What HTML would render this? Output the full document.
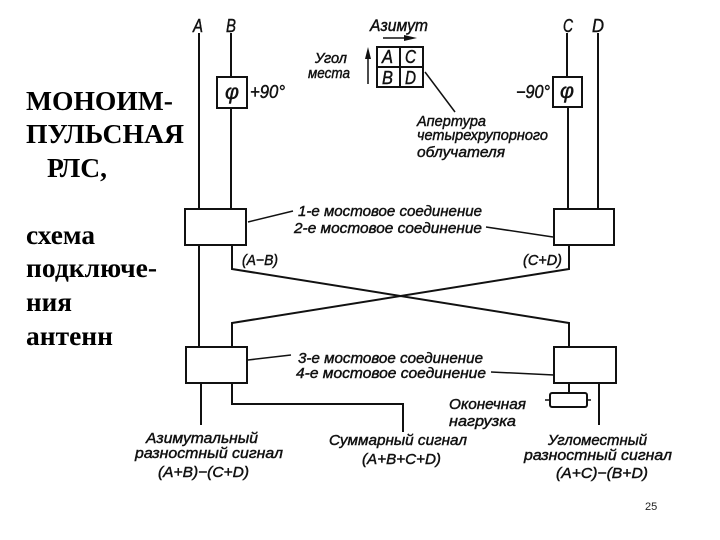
<!DOCTYPE html>
<html><head><meta charset="utf-8"><style>
html,body{margin:0;padding:0;background:#fff;width:720px;height:540px;overflow:hidden}
svg{display:block}
.l{fill:none;stroke:#111;stroke-width:2;stroke-linejoin:miter}
.t{stroke:#111;stroke-width:1.5;fill:none}
.b{fill:#fff;stroke:#111;stroke-width:2}
text.i{font-family:"Liberation Sans",sans-serif;font-style:italic;font-size:15px;fill:#111;stroke:#111;stroke-width:.45}
text.c{font-size:18px}
text.s{font-family:"Liberation Serif",serif;font-weight:bold;font-size:27.5px;fill:#000}
</style></head><body>
<svg width="720" height="540" viewBox="0 0 720 540" xmlns="http://www.w3.org/2000/svg">
<!-- vertical lines -->
<path class="l" d="M199 33V209M231 33V77M231 108V209M567 33V77M568 107V209M598 33V209"/>
<path class="l" d="M199 245V347M201 383V425M232 245V269L569 323V347M569 245V269L232 323V347"/>
<path class="l" d="M232 383V404H403V432M569 383V393M599 383V425"/>
<!-- boxes -->
<rect class="b" x="217" y="77" width="30" height="31"/>
<rect class="b" x="553" y="77" width="29" height="30"/>
<rect class="b" x="185" y="209" width="61" height="36"/>
<rect class="b" x="554" y="209" width="60" height="36"/>
<rect class="b" x="186" y="347" width="61" height="36"/>
<rect class="b" x="554" y="347" width="62" height="36"/>
<rect class="b" x="550" y="393" width="37" height="14" rx="2"/>
<path class="t" d="M545 400H550M587 400H591"/>
<!-- grid -->
<rect class="b" x="377" y="47" width="46" height="40"/>
<path class="l" d="M400 47V87M377 67H423"/>
<!-- arrows -->
<path class="t" d="M383 38H408"/><path d="M417 38L404 35V41Z" fill="#111"/>
<path class="t" d="M368 84V56"/><path d="M368 47L365 59H371Z" fill="#111"/>
<!-- leaders -->
<path class="t" d="M425 72L455 112M248 222L293 211M486 227L553 237M248 360L291 355M491 372L554 375"/>
<!-- labels -->
<text class="i c" x="193" y="32" textLength="10" lengthAdjust="spacingAndGlyphs">A</text>
<text class="i c" x="226" y="32" textLength="10" lengthAdjust="spacingAndGlyphs">B</text>
<text class="i c" x="563" y="32" textLength="10" lengthAdjust="spacingAndGlyphs">C</text>
<text class="i c" x="592" y="32" textLength="12" lengthAdjust="spacingAndGlyphs">D</text>
<text class="i" x="370" y="31" textLength="58" lengthAdjust="spacingAndGlyphs" style="font-size:17px">Азимут</text>
<text class="i" x="315" y="63" textLength="32" lengthAdjust="spacingAndGlyphs">Угол</text>
<text class="i" x="308" y="78" textLength="42" lengthAdjust="spacingAndGlyphs">места</text>
<text class="i c" x="382" y="63" textLength="11" lengthAdjust="spacingAndGlyphs">A</text>
<text class="i c" x="405" y="63" textLength="11" lengthAdjust="spacingAndGlyphs">C</text>
<text class="i c" x="382" y="84" textLength="11" lengthAdjust="spacingAndGlyphs">B</text>
<text class="i c" x="405" y="84" textLength="11" lengthAdjust="spacingAndGlyphs">D</text>
<text class="i" x="225" y="99" textLength="14" lengthAdjust="spacingAndGlyphs" style="font-size:21px">φ</text>
<text class="i" x="560" y="98" textLength="14" lengthAdjust="spacingAndGlyphs" style="font-size:21px">φ</text>
<text class="i" x="250" y="98" textLength="35" lengthAdjust="spacingAndGlyphs" style="font-size:18px">+90°</text>
<text class="i" x="516" y="98" textLength="34" lengthAdjust="spacingAndGlyphs" style="font-size:18px">−90°</text>
<text class="i" x="417" y="126" textLength="69" lengthAdjust="spacingAndGlyphs">Апертура</text>
<text class="i" x="417" y="140" textLength="131" lengthAdjust="spacingAndGlyphs">четырехрупорного</text>
<text class="i" x="417" y="157" textLength="88" lengthAdjust="spacingAndGlyphs">облучателя</text>
<text class="i" x="298" y="216" textLength="184" lengthAdjust="spacingAndGlyphs">1-е мостовое соединение</text>
<text class="i" x="294" y="233" textLength="188" lengthAdjust="spacingAndGlyphs">2-е мостовое соединение</text>
<text class="i" x="242" y="265" textLength="36" lengthAdjust="spacingAndGlyphs">(A−B)</text>
<text class="i" x="523" y="265" textLength="39" lengthAdjust="spacingAndGlyphs">(C+D)</text>
<text class="i" x="298" y="363" textLength="185" lengthAdjust="spacingAndGlyphs">3-е мостовое соединение</text>
<text class="i" x="296" y="378" textLength="190" lengthAdjust="spacingAndGlyphs">4-е мостовое соединение</text>
<text class="i" x="449" y="409" textLength="77" lengthAdjust="spacingAndGlyphs">Оконечная</text>
<text class="i" x="449" y="426" textLength="67" lengthAdjust="spacingAndGlyphs">нагрузка</text>
<text class="i" x="146" y="443" textLength="112" lengthAdjust="spacingAndGlyphs">Азимутальный</text>
<text class="i" x="135" y="458" textLength="148" lengthAdjust="spacingAndGlyphs">разностный сигнал</text>
<text class="i" x="158" y="477" textLength="91" lengthAdjust="spacingAndGlyphs">(A+B)−(C+D)</text>
<text class="i" x="329" y="445" textLength="138" lengthAdjust="spacingAndGlyphs">Суммарный сигнал</text>
<text class="i" x="362" y="464" textLength="79" lengthAdjust="spacingAndGlyphs">(A+B+C+D)</text>
<text class="i" x="548" y="445" textLength="99" lengthAdjust="spacingAndGlyphs">Угломестный</text>
<text class="i" x="524" y="460" textLength="148" lengthAdjust="spacingAndGlyphs">разностный сигнал</text>
<text class="i" x="556" y="478" textLength="92" lengthAdjust="spacingAndGlyphs">(A+C)−(B+D)</text>
<!-- left title -->
<text class="s" x="26" y="110" textLength="147" lengthAdjust="spacingAndGlyphs">МОНОИМ-</text>
<text class="s" x="26" y="143" textLength="158" lengthAdjust="spacingAndGlyphs">ПУЛЬСНАЯ</text>
<text class="s" x="47" y="177" textLength="60" lengthAdjust="spacingAndGlyphs">РЛС,</text>
<text class="s" x="26" y="244" textLength="69" lengthAdjust="spacingAndGlyphs">схема</text>
<text class="s" x="26" y="277" textLength="131" lengthAdjust="spacingAndGlyphs">подключе-</text>
<text class="s" x="26" y="311" textLength="46" lengthAdjust="spacingAndGlyphs">ния</text>
<text class="s" x="26" y="345" textLength="87" lengthAdjust="spacingAndGlyphs">антенн</text>
<text x="645" y="510" style="font-family:'Liberation Sans',sans-serif;font-size:11px;fill:#222">25</text>
</svg>
</body></html>
